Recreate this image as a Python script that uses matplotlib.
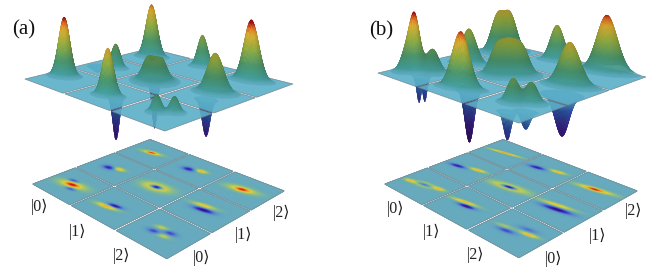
import numpy as np
import matplotlib
matplotlib.use("Agg")
import matplotlib.pyplot as plt
from matplotlib.collections import PolyCollection
from matplotlib.colors import LinearSegmentedColormap, Normalize

# plane corners: left, front, right, back (pixels)
a_top_corners = [(23, 79), (165, 132), (295, 84), (150, 48)]
a_floor_corners = [(31, 184), (167, 260), (286, 191), (150, 139)]
b_top_corners = [(376, 73), (519, 124), (648, 77), (503, 43)]
b_floor_corners = [(383, 184), (519, 259), (639, 191), (503, 139)]

# lobes: s, t, amplitude, sigma major, sigma minor, angle (deg) in plane units
a_top_peaks = [
    (0.32, 0.60, 1.02, 0.10, 0.068, 20), (0.55, 1.55, 0.42, 0.08, 0.056, 20),
    (0.45, 2.55, 0.90, 0.105, 0.068, 20),
    (1.50, 0.45, 0.82, 0.09, 0.055, 20),
    (1.47, 1.50, 0.76, 0.13, 0.12, 20), (1.47, 1.50, -0.48, 0.065, 0.065, 20),
    (1.47, 2.70, 0.55, 0.085, 0.052, 20),
    (2.45, 0.46, 0.31, 0.06, 0.055, 20), (2.62, 0.63, 0.28, 0.06, 0.055, 20),
    (2.45, 1.75, 0.68, 0.12, 0.085, 20),
    (2.46, 2.65, 1.05, 0.115, 0.068, 20),
]
a_top_dips = [
    (0.25, 1.40, -0.10, 0.08, 0.065, 0), (1.60, 0.52, -0.76, 0.05, 0.035, 20),
    (1.47, 1.50, -0.82, 0.04, 0.04, 20), (2.55, 1.40, -0.65, 0.056, 0.036, 20),
]
b_top_peaks = [
    (0.35, 0.52, 0.92, 0.09, 0.06, 20), (0.25, 0.42, 0.34, 0.09, 0.08, 20),
    (0.58, 0.70, 0.40, 0.10, 0.09, 20),
    (0.60, 1.50, 0.60, 0.13, 0.065, 20), (0.40, 2.42, 0.62, 0.12, 0.10, 20),
    (0.52, 2.62, 0.62, 0.12, 0.10, 20),
    (1.48, 0.46, 0.98, 0.14, 0.06, 20),
    (1.36, 1.36, 0.46, 0.11, 0.11, 20), (1.50, 1.50, 0.46, 0.11, 0.11, 20),
    (1.64, 1.64, 0.46, 0.11, 0.11, 20),
    (1.49, 2.72, 0.62, 0.12, 0.06, 20),
    (2.42, 0.55, 0.42, 0.085, 0.065, 20), (2.60, 0.72, 0.36, 0.085, 0.065, 20),
    (2.47, 1.75, 0.75, 0.15, 0.085, 20),
    (2.42, 2.78, 0.98, 0.16, 0.092, 20),
]
b_top_dips = [
    (0.60, 0.40, -0.46, 0.04, 0.025, 20), (0.62, 0.50, -0.46, 0.04, 0.025, 20),
    (1.60, 0.52, -0.92, 0.07, 0.045, 20),
    (2.60, 0.23, -0.50, 0.05, 0.028, 20), (2.75, 0.42, -0.32, 0.06, 0.03, 20),
    (2.65, 1.32, -0.72, 0.10, 0.07, 20),
]
a_floor_lobes = [
    (0.50, 0.50, 0.55, 0.21, 0.09, 12), (0.50, 0.50, 0.55, 0.08, 0.032, 12),
    (0.40, 0.62, -0.65, 0.07, 0.03, 12), (0.60, 0.38, -0.65, 0.07, 0.03, 12),
    (0.43, 1.44, -0.85, 0.08, 0.05, 12), (0.60, 1.52, 0.55, 0.09, 0.05, 12),
    (0.50, 2.50, 0.50, 0.16, 0.055, 12), (0.50, 2.50, 0.40, 0.07, 0.03, 12),
    (1.50, 0.52, -1.05, 0.09, 0.032, 12), (1.42, 0.42, 0.60, 0.15, 0.045, 12),
    (1.50, 1.50, 0.62, 0.19, 0.105, 12), (1.50, 1.50, -1.55, 0.065, 0.038, 12),
    (1.42, 2.46, -0.85, 0.08, 0.05, 12), (1.62, 2.55, 0.55, 0.09, 0.05, 12),
    (2.42, 0.58, 0.38, 0.08, 0.04, 12), (2.60, 0.55, -0.60, 0.07, 0.04, 12),
    (2.58, 0.42, 0.38, 0.08, 0.04, 12), (2.40, 0.42, -0.60, 0.07, 0.04, 12),
    (2.50, 1.46, -1.05, 0.115, 0.04, 12), (2.42, 1.58, 0.50, 0.15, 0.045, 12),
    (2.50, 2.50, 0.55, 0.19, 0.08, 12), (2.50, 2.50, 0.50, 0.065, 0.032, 12),
]
b_floor_lobes = [
    (0.50, 0.50, -0.95, 0.09, 0.03, 11), (0.22, 0.42, 0.50, 0.09, 0.04, 11),
    (0.78, 0.58, 0.50, 0.09, 0.04, 11), (0.50, 0.50, 0.60, 0.13, 0.06, 11),
    (0.33, 1.44, -0.90, 0.11, 0.035, 11), (0.70, 1.58, 0.55, 0.13, 0.04, 11),
    (0.50, 2.50, 0.62, 0.25, 0.03, 11),
    (1.50, 0.50, -1.05, 0.10, 0.03, 11), (1.38, 0.58, 0.55, 0.19, 0.035, 11),
    (1.50, 1.50, 0.62, 0.25, 0.075, 11), (1.50, 1.50, -1.60, 0.09, 0.03, 11),
    (1.32, 2.45, -0.85, 0.11, 0.04, 11), (1.68, 2.58, 0.55, 0.12, 0.04, 11),
    (2.30, 0.50, 0.30, 0.11, 0.035, 11), (2.40, 0.42, -0.60, 0.10, 0.035, 11),
    (2.70, 0.58, 0.55, 0.11, 0.035, 11), (2.60, 0.68, -0.40, 0.10, 0.035, 11),
    (2.50, 1.48, -1.05, 0.17, 0.04, 11), (2.42, 1.60, 0.50, 0.22, 0.04, 11),
    (2.50, 2.50, 0.62, 0.24, 0.05, 11), (2.50, 2.50, 0.42, 0.07, 0.025, 11),
]

state_labels = ["|0⟩", "|1⟩", "|2⟩"]
a_labels_left = [(39, 207), (78, 232), (122, 256)]
a_labels_right = [(201, 258), (244, 235), (282, 213)]
b_labels_left = [(395, 209), (431, 232), (475, 255)]
b_labels_right = [(553, 259), (597, 236), (634, 211)]

PLANE = "#66aabf"
TOP_PLANE = "#5aaec8"
top_cmap = LinearSegmentedColormap.from_list("top", [
    (0.00, "#2a0a55"), (0.20, "#3a1a80"), (0.38, "#2c55a8"), (0.50, "#5faabf"),
    (0.54, "#3d8f8c"), (0.64, "#3f7f5c"), (0.78, "#7c8f34"),
    (0.90, "#b89028"), (0.96, "#c05a1c"), (1.00, "#8e0c12")])
floor_cmap = LinearSegmentedColormap.from_list("floor", [
    (0.00, "#3a0f8c"), (0.18, "#3c3cc8"), (0.35, "#5a86d0"), (0.50, PLANE),
    (0.60, "#8fbf8c"), (0.72, "#e6d23c"), (0.86, "#f08a20"), (1.00, "#e0141c")])


def homography(corners):
    src = [(0, 0), (3, 0), (3, 3), (0, 3)]
    rows, rhs = [], []
    for (u, v), (x, y) in zip(src, corners):
        rows.append([u, v, 1, 0, 0, 0, -u * x, -v * x]); rhs.append(x)
        rows.append([0, 0, 0, u, v, 1, -u * y, -v * y]); rhs.append(y)
    h = np.linalg.solve(np.array(rows, float), np.array(rhs, float))
    return np.append(h, 1).reshape(3, 3)


def project(H, s, t):
    w = H[2, 0] * s + H[2, 1] * t + H[2, 2]
    return (H[0, 0] * s + H[0, 1] * t + H[0, 2]) / w, (H[1, 0] * s + H[1, 1] * t + H[1, 2]) / w


def field(S, T, lobes):
    Z = np.zeros_like(S)
    for s0, t0, amp, sa, sb, ang in lobes:
        c, d = np.cos(np.radians(ang)), np.sin(np.radians(ang))
        u = (S - s0) * c + (T - t0) * d
        v = -(S - s0) * d + (T - t0) * c
        Z += amp * np.exp(-0.5 * (u / sa) ** 2 - 0.5 * (v / sb) ** 2)
    return Z


GAP = 0.022


def cell_polys(H):
    polys = []
    for i in range(3):
        for j in range(3):
            s = np.array([i + GAP, i + 1 - GAP, i + 1 - GAP, i + GAP])
            t = np.array([j + GAP, j + GAP, j + 1 - GAP, j + 1 - GAP])
            polys.append(np.column_stack(project(H, s, t)))
    return polys


def draw_floor(ax, corners, lobes):
    H = homography(corners)
    norm = Normalize(-1, 1)
    for i in range(3):
        for j in range(3):
            s, t = np.meshgrid(np.linspace(i + GAP, i + 1 - GAP, 70),
                               np.linspace(j + GAP, j + 1 - GAP, 70), indexing="ij")
            X, Y = project(H, s, t)
            ax.pcolormesh(X, Y, field(s, t, lobes), cmap=floor_cmap, norm=norm,
                          shading="gouraud", zorder=2)
    ax.add_collection(PolyCollection(cell_polys(H), facecolors="none",
                                     edgecolors="#7f8f96", linewidths=0.5, zorder=3))


def surface_faces(H, lobes, zpx, n):
    edges = np.linspace(0, 3, n + 1)
    S, T = np.meshgrid(edges, edges, indexing="ij")
    Z = field(S, T, lobes)
    X, Y = project(H, S, T)
    Y3 = Y - Z * zpx
    verts = np.stack([np.column_stack([X[:-1, :-1].ravel(), Y3[:-1, :-1].ravel()]),
                      np.column_stack([X[1:, :-1].ravel(), Y3[1:, :-1].ravel()]),
                      np.column_stack([X[1:, 1:].ravel(), Y3[1:, 1:].ravel()]),
                      np.column_stack([X[:-1, 1:].ravel(), Y3[:-1, 1:].ravel()])], axis=1)
    zc = 0.25 * (Z[:-1, :-1] + Z[1:, :-1] + Z[1:, 1:] + Z[:-1, 1:]).ravel()
    depth = (0.5 * (S[:-1, :-1] + S[1:, 1:]) - 0.5 * (T[:-1, :-1] + T[1:, 1:])).ravel()
    dzs, dzt = np.gradient(Z, edges, edges)
    dzs = 0.25 * (dzs[:-1, :-1] + dzs[1:, :-1] + dzs[1:, 1:] + dzs[:-1, 1:]).ravel()
    dzt = 0.25 * (dzt[:-1, :-1] + dzt[1:, :-1] + dzt[1:, 1:] + dzt[:-1, 1:]).ravel()
    shade = np.clip(1.0 + 0.03 * (dzt - 0.35 * dzs), 0.78, 1.25)
    rgba = top_cmap(np.clip((zc + 1) / 2, 0, 1))
    rgba[:, :3] = np.clip(rgba[:, :3] * shade[:, None], 0, 1)
    return verts, zc, depth, rgba


def draw_top(ax, corners, peaks, dips, zpx=58.0, n=240):
    H = homography(corners)
    verts, zc, depth, rgba = surface_faces(H, dips, zpx, n)
    neg = zc < -0.006
    order = np.argsort(depth[neg])
    ax.add_collection(PolyCollection(verts[neg][order], facecolors=rgba[neg][order],
                                     edgecolors=rgba[neg][order], linewidths=0.15, zorder=4))
    ax.add_collection(PolyCollection(cell_polys(H), facecolors=TOP_PLANE, alpha=0.9,
                                     edgecolors="#70808a", linewidths=0.5, zorder=5))
    verts, zc, depth, rgba = surface_faces(H, peaks, zpx, n)
    pos = zc > 0.006
    order = np.argsort(depth[pos])
    cols = rgba[pos][order]
    cols[:, 3] = np.clip(zc[pos][order] / 0.07, 0.25, 1)
    ax.add_collection(PolyCollection(verts[pos][order], facecolors=cols,
                                     edgecolors=cols, linewidths=0.15, zorder=6))


plt.rcParams["font.family"] = ["Liberation Serif", "DejaVu Serif"]
fig = plt.figure(figsize=(6.65, 2.71), dpi=100)
ax = fig.add_axes([0, 0, 1, 1])
ax.set_xlim(0, 665)
ax.set_ylim(271, 0)
ax.axis("off")

draw_floor(ax, a_floor_corners, a_floor_lobes)
draw_floor(ax, b_floor_corners, b_floor_lobes)
draw_top(ax, a_top_corners, a_top_peaks, a_top_dips)
draw_top(ax, b_top_corners, b_top_peaks, b_top_dips)

for xy, lab in zip(a_labels_left + a_labels_right + b_labels_left + b_labels_right, state_labels * 4):
    ax.text(xy[0], xy[1], lab, fontsize=11.5, ha="center", va="center", color="#222222")
ax.text(24, 30, "(a)", fontsize=15, ha="center", va="center", color="#111111")
ax.text(381, 31, "(b)", fontsize=15, ha="center", va="center", color="#111111")

fig.savefig("out.png", dpi=100)
